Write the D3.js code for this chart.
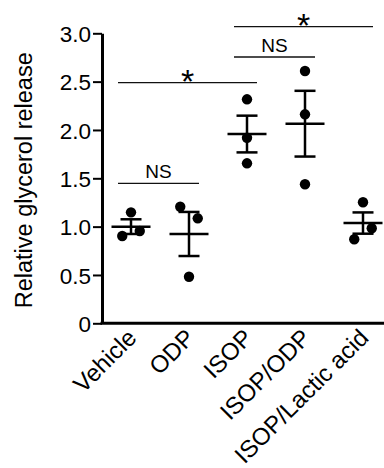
<!DOCTYPE html>
<html>
<head>
<meta charset="utf-8">
<script src="https://cdn.jsdelivr.net/npm/d3@7"></script>
<style>
  body { margin: 0; background: #fff; }
  svg text { font-family: "Liberation Sans", Arial, sans-serif; fill: #000; }
</style>
</head>
<body>
<svg id="chart" width="384" height="468"></svg>
<script>
// Groups and individual replicate values
const groups = [ "Vehicle", "ODP", "ISOP", "ISOP/ODP", "ISOP/Lactic acid" ];
const vehicle = [ 1.148, 0.903, 0.955 ];
const odp     = [ 1.206, 1.086, 0.482 ];
const isop    = [ 2.317, 1.920, 1.655 ];
const isopOdp = [ 2.610, 2.162, 1.438 ];
const isopLac = [ 1.252, 0.869, 0.983 ];
const replicates = [ vehicle, odp, isop, isopOdp, isopLac ];

// Mean and SEM as drawn
const means = [ 1.000, 0.924, 1.958, 2.065, 1.037 ];
const sems  = [ 0.076, 0.228, 0.190, 0.340, 0.110 ];

// Y ticks
const yTicks = [ 0, 0.5, 1.0, 1.5, 2.0, 2.5, 3.0 ];

// Significance brackets: from group, to group, height, label
const bracketFrom  = [ "Vehicle", "Vehicle", "ISOP", "ISOP" ];
const bracketTo    = [ "ODP", "ISOP", "ISOP/ODP", "ISOP/Lactic acid" ];
const bracketY     = [ 1.448, 2.49, 2.755, 3.07 ];
const bracketLabel = [ "NS", "*", "NS", "*" ];

const svg = d3.select("#chart");

// Scales
const x = d3.scaleBand().domain(groups).range([102, 392]);
const y = d3.scaleLinear().domain([0, 3]).range([323.3, 33.3]);
const cx = function(g) { return x(g) + x.bandwidth() / 2; };

// Y axis
const yAxis = svg.append("g")
    .attr("transform", "translate(" + x.range()[0] + ",0)")
    .call(d3.axisLeft(y).tickValues(yTicks)
        .tickFormat(function(d) { return d === 0 ? "0" : d3.format(".1f")(d); })
        .tickSize(9).tickSizeOuter(0).tickPadding(2));
yAxis.select(".domain").attr("stroke", "#000").attr("stroke-width", 3);
yAxis.selectAll(".tick line").attr("stroke", "#000").attr("stroke-width", 2);
yAxis.selectAll(".tick text").style("font-size", "22.5px").attr("dy", "0.36em");

// X axis
const xAxis = svg.append("g")
    .attr("transform", "translate(0," + y(0) + ")")
    .call(d3.axisBottom(x).tickSize(0).tickSizeOuter(0));
xAxis.select(".domain").attr("stroke", "#000").attr("stroke-width", 3)
    .attr("d", "M" + (x.range()[0] - 1.5) + ",0H" + x.range()[1]);
xAxis.selectAll(".tick text")
    .style("font-size", "24px")
    .attr("text-anchor", "end")
    .attr("y", 0).attr("dy", 0)
    .attr("transform", "translate(" + 7 + ",16) rotate(-45)");

// Y axis title
svg.append("text")
    .attr("transform", "translate(32," + (y(1.5) + 2) + ") rotate(-90)")
    .attr("text-anchor", "middle")
    .style("font-size", "23.5px")
    .text("Relative glycerol release");

// Replicate points, spread sideways when they would overlap
const spread = 17.5;
const pts = [];
replicates.forEach(function(vals, gi) {
    const order = vals.map(function(v, i) { return i; })
        .sort(function(a, b) { return vals[b] - vals[a]; });
    const clusters = [];
    order.forEach(function(i) {
        const last = clusters[clusters.length - 1];
        if (last && Math.abs(y(vals[last[last.length - 1]]) - y(vals[i])) < 14) last.push(i);
        else clusters.push([i]);
    });
    clusters.forEach(function(c) {
        c.sort(function(a, b) { return a - b; });
        c.forEach(function(i, k) {
            pts.push({ g: groups[gi], v: vals[i], off: (k - (c.length - 1) / 2) * spread });
        });
    });
});

svg.append("g").selectAll("circle")
    .data(pts)
    .join("circle")
    .attr("cx", function(d) { return cx(d.g) + d.off; })
    .attr("cy", function(d) { return y(d.v); })
    .attr("r", 5.2)
    .attr("fill", "#000");

// Mean and SEM bars
const bars = svg.append("g").attr("stroke", "#000").attr("stroke-width", 2.5);
groups.forEach(function(g, i) {
    const c = cx(g);
    bars.append("line").attr("x1", c - 19.5).attr("x2", c + 19.5)
        .attr("y1", y(means[i])).attr("y2", y(means[i]));
    bars.append("line").attr("x1", c).attr("x2", c)
        .attr("y1", y(means[i] - sems[i])).attr("y2", y(means[i] + sems[i]));
    [means[i] - sems[i], means[i] + sems[i]].forEach(function(v) {
        bars.append("line").attr("x1", c - 10.5).attr("x2", c + 10.5)
            .attr("y1", y(v)).attr("y2", y(v));
    });
});

// Significance brackets
bracketLabel.forEach(function(lab, i) {
    const x1 = cx(bracketFrom[i]) - 13;
    const x2 = cx(bracketTo[i]) + 10;
    const yy = y(bracketY[i]);
    svg.append("line")
        .attr("x1", x1).attr("x2", x2).attr("y1", yy).attr("y2", yy)
        .attr("stroke", "#111").attr("stroke-width", 1.3);
    svg.append("text")
        .attr("x", (x1 + x2) / 2)
        .attr("y", lab === "*" ? yy + 10 : yy - 5)
        .attr("text-anchor", "middle")
        .style("font-size", lab === "*" ? "34px" : "19px")
        .text(lab);
});
</script>
</body>
</html>
